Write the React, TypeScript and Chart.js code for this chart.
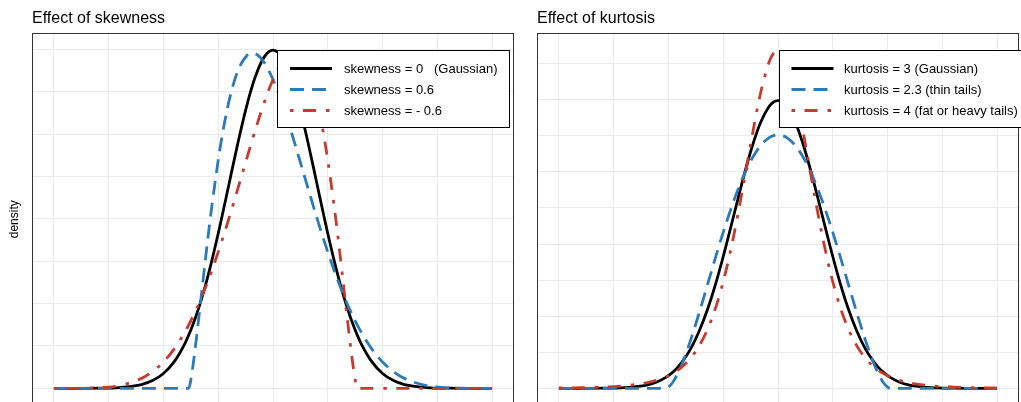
import React, { useEffect, useRef } from "react";
import { Chart, registerables } from "chart.js";

Chart.register(...registerables);

// ---------- data ----------
const skewX = [
  -5, -4.5, -4, -3.5, -3, -2.75, -2.5, -2.25, -2, -1.92, -1.88, -1.84, -1.8, -1.76, -1.7,
  -1.6, -1.5, -1.4, -1.2, -1, -0.8, -0.6, -0.5, -0.4, -0.2, 0, 0.2, 0.4, 0.5, 0.6, 0.8,
  1, 1.2, 1.4, 1.5, 1.6, 1.7, 1.76, 1.8, 1.84, 1.88, 1.92, 2, 2.25, 2.5, 2.75, 3, 3.5, 4, 4.5, 5,
];
const skewGaussian = [
  0, 0, 0.0001, 0.0009, 0.0044, 0.0091, 0.0175, 0.0317, 0.054, 0.0632, 0.0681, 0.0734, 0.079,
  0.0848, 0.094, 0.1109, 0.1295, 0.1497, 0.1942, 0.242, 0.2897, 0.3332, 0.3521, 0.3683, 0.391,
  0.3989, 0.391, 0.3683, 0.3521, 0.3332, 0.2897, 0.242, 0.1942, 0.1497, 0.1295, 0.1109, 0.094,
  0.0848, 0.079, 0.0734, 0.0681, 0.0632, 0.054, 0.0317, 0.0175, 0.0091, 0.0044, 0.0009, 0.0001, 0, 0,
];
const skewPositive = [
  0, 0, 0, 0, 0, 0, 0, 0, 0, 0, 0.0087, 0.0217, 0.037, 0.0537, 0.0803, 0.1259, 0.1709, 0.2131,
  0.2858, 0.3398, 0.3749, 0.3924, 0.3953, 0.3947, 0.3844, 0.3643, 0.3372, 0.3054, 0.2884, 0.2709,
  0.2359, 0.2013, 0.1686, 0.1384, 0.1244, 0.1113, 0.0989, 0.0921, 0.0876, 0.0833, 0.0791, 0.0751,
  0.0674, 0.0468, 0.0311, 0.0197, 0.0117, 0.0032, 0.0006, 0, 0,
];
const skewNegative = [
  0, 0, 0.0006, 0.0032, 0.0117, 0.0197, 0.0311, 0.0468, 0.0674, 0.0751, 0.0791, 0.0833, 0.0876,
  0.0921, 0.0989, 0.1113, 0.1244, 0.1384, 0.1686, 0.2013, 0.2359, 0.2709, 0.2884, 0.3054, 0.3372,
  0.3643, 0.3844, 0.3947, 0.3953, 0.3924, 0.3749, 0.3398, 0.2858, 0.2131, 0.1709, 0.1259, 0.0803,
  0.0537, 0.037, 0.0217, 0.0087, 0, 0, 0, 0, 0, 0, 0, 0, 0, 0,
];

const kurtX = [
  -5, -4.5, -4, -3.5, -3, -2.75, -2.56, -2.5, -2.4, -2.3, -2.2, -2, -1.8, -1.6, -1.4, -1.2, -1,
  -0.8, -0.6, -0.4, -0.2, -0.1, 0, 0.1, 0.2, 0.4, 0.6, 0.8, 1, 1.2, 1.4, 1.6, 1.8, 2, 2.2, 2.3,
  2.4, 2.5, 2.56, 2.75, 3, 3.5, 4, 4.5, 5,
];
const kurtGaussian = [
  0, 0, 0.0001, 0.0009, 0.0044, 0.0091, 0.0151, 0.0175, 0.0224, 0.0283, 0.0355, 0.054, 0.079,
  0.1109, 0.1497, 0.1942, 0.242, 0.2897, 0.3332, 0.3683, 0.391, 0.397, 0.3989, 0.397, 0.391,
  0.3683, 0.3332, 0.2897, 0.242, 0.1942, 0.1497, 0.1109, 0.079, 0.054, 0.0355, 0.0283, 0.0224,
  0.0175, 0.0151, 0.0091, 0.0044, 0.0009, 0.0001, 0, 0,
];
const kurtThin = [
  0, 0, 0, 0, 0, 0, 0, 0.0016, 0.0084, 0.019, 0.0324, 0.0658, 0.1044, 0.1455, 0.1866, 0.2259,
  0.2616, 0.2926, 0.3177, 0.3362, 0.3475, 0.3503, 0.3513, 0.3503, 0.3475, 0.3362, 0.3177, 0.2926,
  0.2616, 0.2259, 0.1866, 0.1455, 0.1044, 0.0658, 0.0324, 0.019, 0.0084, 0.0016, 0, 0, 0, 0, 0, 0, 0,
];
const kurtFat = [
  0.0005, 0.0009, 0.0017, 0.0035, 0.0076, 0.0114, 0.0157, 0.0174, 0.0207, 0.0246, 0.0292, 0.0414,
  0.0588, 0.083, 0.1161, 0.1598, 0.2147, 0.2789, 0.3468, 0.4087, 0.4528, 0.4647, 0.4688, 0.4647,
  0.4528, 0.4087, 0.3468, 0.2789, 0.2147, 0.1598, 0.1161, 0.083, 0.0588, 0.0414, 0.0292, 0.0246,
  0.0207, 0.0174, 0.0157, 0.0114, 0.0076, 0.0035, 0.0017, 0.0009, 0.0005,
];

const skewLabels = ["skewness = 0   (Gaussian)", "skewness = 0.6", "skewness = - 0.6"];
const kurtLabels = [
  "kurtosis = 3 (Gaussian)",
  "kurtosis = 2.3 (thin tails)",
  "kurtosis = 4 (fat or heavy tails)",
];
const panelTitles = ["Effect of skewness", "Effect of kurtosis"];
const yAxisLabel = "density";

const xGridValues = [-5, -3.75, -2.5, -1.25, 0, 1.25, 2.5, 3.75, 5];
const skewYGrid = [0, 0.05, 0.1, 0.15, 0.2, 0.25, 0.3, 0.35, 0.4];
const kurtYGrid = [0, 0.05, 0.1, 0.15, 0.2, 0.25, 0.3, 0.35, 0.4, 0.45];

// ---------- styles ----------
const FONT = '"Liberation Sans", Arial, Helvetica, sans-serif';
const lineColors = ["#000000", "#2c7bb6", "#c33b31"];
const lineDashes: number[][] = [[], [14, 8], [3.5, 9.5, 13, 10]];
const CANVAS_W = 520;
const CANVAS_H = 420;

type PanelProps = {
  left: number;
  xs: number[];
  series: number[][];
  labels: string[];
  title: string;
  yGrid: number[];
  yMin: number;
  yMax: number;
  showYLabel: boolean;
  legendBoxX: number;
  legendBoxW: number;
  legendLineX: number;
  legendTextX: number;
};

function Panel(p: PanelProps) {
  const ref = useRef<HTMLCanvasElement | null>(null);

  useEffect(() => {
    if (!ref.current) return;
    const decor = {
      id: "decor",
      afterDatasetsDraw(chart: any) {
        const ctx = chart.ctx as CanvasRenderingContext2D;
        const a = chart.chartArea;
        ctx.save();
        // panel border
        ctx.strokeStyle = "#333333";
        ctx.lineWidth = 1;
        ctx.setLineDash([]);
        ctx.strokeRect(
          Math.round(a.left) + 0.5,
          Math.round(a.top) + 0.5,
          Math.round(a.right) - Math.round(a.left) - 1,
          Math.round(a.bottom) - Math.round(a.top)
        );
        // legend box
        const bx = p.legendBoxX,
          by = 50.5,
          bh = 77;
        ctx.fillStyle = "#ffffff";
        ctx.fillRect(bx, by, p.legendBoxW, bh);
        ctx.strokeStyle = "#000000";
        ctx.lineWidth = 1;
        ctx.strokeRect(bx, by, p.legendBoxW, bh);
        const rows = [68.5, 89.5, 110.5];
        p.labels.forEach((lab, i) => {
          ctx.save();
          ctx.beginPath();
          ctx.strokeStyle = lineColors[i];
          ctx.lineWidth = 2.8;
          ctx.lineCap = "butt";
          ctx.setLineDash(lineDashes[i]);
          ctx.moveTo(p.legendLineX, rows[i]);
          ctx.lineTo(p.legendLineX + 42, rows[i]);
          ctx.stroke();
          ctx.restore();
          ctx.fillStyle = "#000000";
          ctx.font = `13px ${FONT}`;
          ctx.textAlign = "left";
          ctx.textBaseline = "middle";
          ctx.fillText(lab, p.legendTextX, rows[i] + 0.5);
        });
        ctx.restore();
      },
      afterDraw(chart: any) {
        const ctx = chart.ctx as CanvasRenderingContext2D;
        const a = chart.chartArea;
        ctx.save();
        ctx.fillStyle = "#000000";
        ctx.font = `16px ${FONT}`;
        ctx.textAlign = "left";
        ctx.textBaseline = "alphabetic";
        ctx.fillText(p.title, a.left, 23);
        if (p.showYLabel) {
          ctx.translate(14.5, (a.top + a.bottom) / 2);
          ctx.rotate(-Math.PI / 2);
          ctx.font = `12px ${FONT}`;
          ctx.textAlign = "center";
          ctx.textBaseline = "middle";
          ctx.fillText(yAxisLabel, 0, 0);
        }
        ctx.restore();
      },
    };

    const chart = new Chart(ref.current, {
      type: "line",
      data: {
        datasets: p.series.map((ys, i) => ({
          label: p.labels[i],
          data: p.xs.map((xv, j) => ({ x: xv, y: ys[j] })),
          borderColor: lineColors[i],
          borderWidth: 2.8,
          borderDash: lineDashes[i],
          borderCapStyle: "butt",
          borderJoinStyle: "round",
          pointRadius: 0,
          fill: false,
          cubicInterpolationMode: "monotone",
          order: 3 - i,
        })),
      } as any,
      options: {
        responsive: false,
        animation: false,
        devicePixelRatio: 1,
        events: [],
        layout: {
          padding: { left: 32, top: 33.3, right: CANVAS_W - 514, bottom: CANVAS_H - 405.2 },
        },
        plugins: {
          legend: { display: false },
          title: { display: false },
          tooltip: { enabled: false },
        },
        scales: {
          x: {
            type: "linear",
            min: -5.5,
            max: 5.5,
            afterBuildTicks: (s: any) => {
              s.ticks = xGridValues.map((v) => ({ value: v }));
            },
            afterFit: (s: any) => {
              s.height = 0;
            },
            ticks: { display: false },
            grid: { color: "#ebebeb", lineWidth: 1, drawTicks: false },
            border: { display: false },
          },
          y: {
            type: "linear",
            min: p.yMin,
            max: p.yMax,
            afterBuildTicks: (s: any) => {
              s.ticks = p.yGrid.map((v) => ({ value: v }));
            },
            afterFit: (s: any) => {
              s.width = 0;
            },
            ticks: { display: false },
            grid: { color: "#ebebeb", lineWidth: 1, drawTicks: false },
            border: { display: false },
          },
        },
      } as any,
      plugins: [decor],
    });
    return () => chart.destroy();
  }, []);

  return (
    <canvas
      ref={ref}
      width={CANVAS_W}
      height={CANVAS_H}
      style={{
        position: "absolute",
        left: p.left,
        top: 0,
        width: CANVAS_W,
        height: CANVAS_H,
      }}
    />
  );
}

export default function App() {
  return (
    <div
      style={{
        position: "fixed",
        left: 0,
        top: 0,
        width: 1021,
        height: 402,
        overflow: "hidden",
        background: "#ffffff",
      }}
    >
      <Panel
        left={0}
        xs={skewX}
        series={[skewGaussian, skewPositive, skewNegative]}
        labels={skewLabels}
        title={panelTitles[0]}
        yGrid={skewYGrid}
        yMin={-0.01995}
        yMax={0.41885}
        showYLabel={true}
        legendBoxX={277.5}
        legendBoxW={232}
        legendLineX={290}
        legendTextX={344}
      />
      <Panel
        left={505}
        xs={kurtX}
        series={[kurtGaussian, kurtThin, kurtFat]}
        labels={kurtLabels}
        title={panelTitles[1]}
        yGrid={kurtYGrid}
        yMin={-0.02344}
        yMax={0.49224}
        showYLabel={false}
        legendBoxX={274.5}
        legendBoxW={260}
        legendLineX={286.5}
        legendTextX={339}
      />
    </div>
  );
}
